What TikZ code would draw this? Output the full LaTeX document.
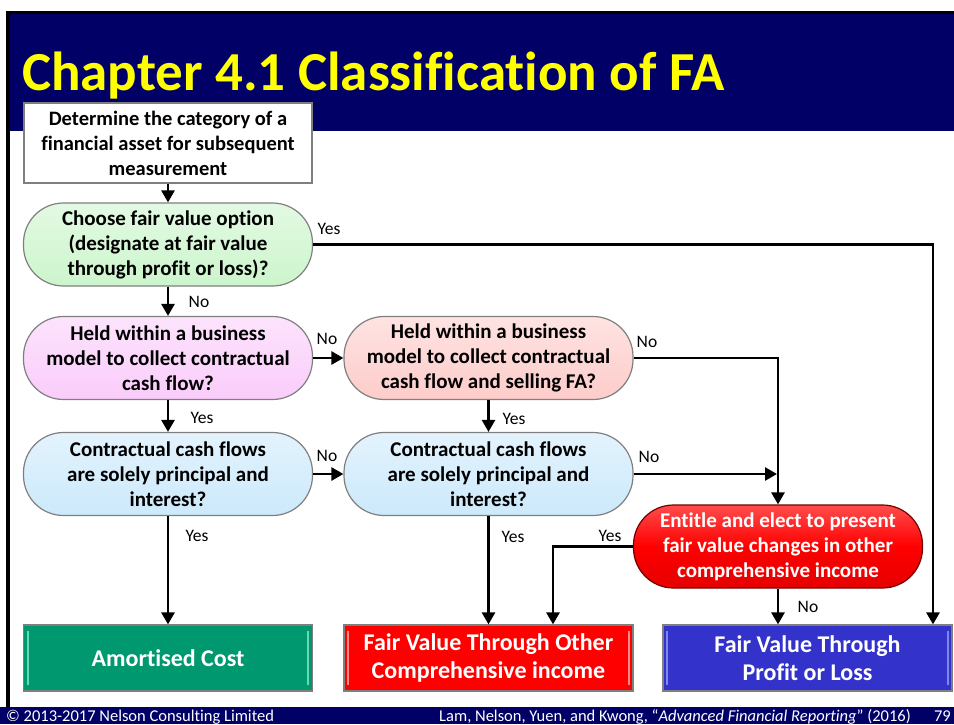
\documentclass[tikz,border=0pt]{standalone}
\usepackage{fontspec}
\setmainfont{Carlito}[Ligatures=CommonOff]
\usetikzlibrary{arrows.meta}
\definecolor{navy}{HTML}{000066}
\definecolor{ttlyellow}{HTML}{FFFF00}
\definecolor{bordgray}{HTML}{7F7F7F}
\definecolor{cgreen}{HTML}{CCF5CC}
\definecolor{cpink}{HTML}{FACCFA}
\definecolor{csalmon}{HTML}{FDCCCA}
\definecolor{cblue}{HTML}{CCE9FB}
\definecolor{cred}{HTML}{FF0000}
\definecolor{cac}{HTML}{00996F}
\definecolor{cacl}{HTML}{66D9B8}
\definecolor{cfvoci}{HTML}{FF0000}
\definecolor{cfvocil}{HTML}{FF8A8A}
\definecolor{cfvtpl}{HTML}{3333CC}
\definecolor{cfvtpll}{HTML}{8585F0}
\tikzset{
  decbox/.style={rectangle, rounded corners=40pt, draw=bordgray, line width=1.2pt,
    minimum width=289pt, minimum height=83pt, align=center, inner sep=0pt,
    font=\fontsize{21}{25}\selectfont\bfseries},
  endbox/.style={rectangle, draw=bordgray, line width=1.2pt,
    minimum width=289pt, minimum height=66pt, align=center, inner sep=0pt, text=white,
    font=\fontsize{24}{28}\selectfont\bfseries},
  lbl/.style={font=\fontsize{17.5}{20}\selectfont, inner sep=0pt},
  arr/.style={line width=2.6pt, -{Triangle[length=12pt,width=13pt]}},
  bevel/.style={line width=2pt},
}
\begin{document}
\begin{tikzpicture}[x=1pt,y=-1pt]
\useasboundingbox (0,0) rectangle (954,724);
% slide frame and header
\fill[black] (6,11) rectangle (954,14);
\fill[black] (6,11) rectangle (10,707);
\fill[navy] (10,14) rectangle (954,131);
\fill[navy] (0,707) rectangle (954,724);
\node[anchor=base west, inner sep=0pt, text=ttlyellow, font=\fontsize{55}{60}\selectfont\bfseries] (title) at (22,90) {Chapter 4.1 Classification of FA};
% footer
\node[anchor=base west, inner sep=0pt, text=white, font=\fontsize{16.5}{18}\selectfont] (foot1) at (6,721) {© 2013-2017 Nelson Consulting Limited};
\node[anchor=base east, inner sep=0pt, text=white, font=\fontsize{16.5}{18}\selectfont] (foot2) at (911,721) {Lam, Nelson, Yuen, and Kwong, “\textit{Advanced Financial Reporting}” (2016)};
\node[anchor=base east, inner sep=0pt, text=white, font=\fontsize{16.5}{18}\selectfont] (foot3) at (951,721) {79};
% boxes
\node[rectangle, draw=bordgray, line width=1.2pt, fill=white, minimum width=288pt, minimum height=80pt, align=center, inner sep=0pt, font=\fontsize{20.5}{25}\selectfont\bfseries] (top) at (168,143) {Determine the category of a\\financial asset for subsequent\\measurement};
\node[decbox, top color=cgreen!55!white, bottom color=cgreen] (choose) at (168,244.5) {Choose fair value option\\(designate at fair value\\through profit or loss)?};
\node[decbox, top color=cpink!55!white, bottom color=cpink] (held1) at (168,358) {Held within a business\\model to collect contractual\\cash flow?};
\node[decbox, top color=csalmon!55!white, bottom color=csalmon] (held2) at (488.5,358) {Held within a business\\model to collect contractual\\cash flow and selling FA?};
\node[decbox, top color=cblue!55!white, bottom color=cblue] (ccf1) at (168,474) {Contractual cash flows\\are solely principal and\\interest?};
\node[decbox, top color=cblue!55!white, bottom color=cblue] (ccf2) at (488.5,474) {Contractual cash flows\\are solely principal and\\interest?};
\node[decbox, top color=cred!70!white, bottom color=cred!90!black, middle color=cred, text=white, draw=cred!45!black] (entitle) at (778,546.5) {Entitle and elect to present\\fair value changes in other\\comprehensive income};
\node[endbox, fill=cac] (ac) at (168,658) {Amortised Cost};
\node[endbox, fill=cfvoci] (fvoci) at (488.5,658) {Fair Value Through Other\\Comprehensive income};
\node[endbox, fill=cfvtpl] (fvtpl) at (807.5,658) {Fair Value Through\\Profit or Loss};
% bevels
\foreach \n/\c in {ac/cacl, fvoci/cfvocil, fvtpl/cfvtpll}{
  \draw[bevel, draw=\c] ([xshift=5pt,yshift=-7pt]\n.north west) -- ([xshift=5pt,yshift=7pt]\n.south west);
  \draw[bevel, draw=\c] ([xshift=-5pt,yshift=-7pt]\n.north east) -- ([xshift=-5pt,yshift=7pt]\n.south east);
}
% connectors
\coordinate (c1) at (933,244.5);
\coordinate (c2) at (778,358);
\coordinate (c3) at (553,547);
\draw[arr] (top.south) -- (choose.north);
\draw[arr] (choose.south) -- (held1.north);
\draw[arr] (held1.east) -- (held2.west);
\draw[arr] (held1.south) -- (ccf1.north);
\draw[arr] (held2.south) -- (ccf2.north);
\draw[arr] (ccf1.east) -- (ccf2.west);
\draw[arr] (ccf1.south) -- (ac.north);
\draw[arr] (ccf2.south) -- (fvoci.north);
\draw[arr] (choose.east) -- (c1) -- (c1 |- fvtpl.north);
\draw[arr] (held2.east) -- (c2) -- (entitle.north);
\draw[arr, shorten >=1pt] (ccf2.east) -- (ccf2.east -| c2);
\draw[arr] (entitle.west) -- (entitle.west -| c3) -- (c3 |- fvoci.north);
\draw[arr] (entitle.south) -- (entitle.south |- fvtpl.north);
% labels
\node[lbl] (l1) at (329,229) {Yes};
\node[lbl] (l2) at (199,302) {No};
\node[lbl] (l3) at (327,339) {No};
\node[lbl] (l4) at (647,342) {No};
\node[lbl] (l5) at (202,418) {Yes};
\node[lbl] (l6) at (514,419) {Yes};
\node[lbl] (l7) at (327,456) {No};
\node[lbl] (l8) at (649,457) {No};
\node[lbl] (l9) at (197,536) {Yes};
\node[lbl] (l10) at (513,537) {Yes};
\node[lbl] (l11) at (610,536) {Yes};
\node[lbl] (l12) at (808,607) {No};
\end{tikzpicture}
\end{document}
